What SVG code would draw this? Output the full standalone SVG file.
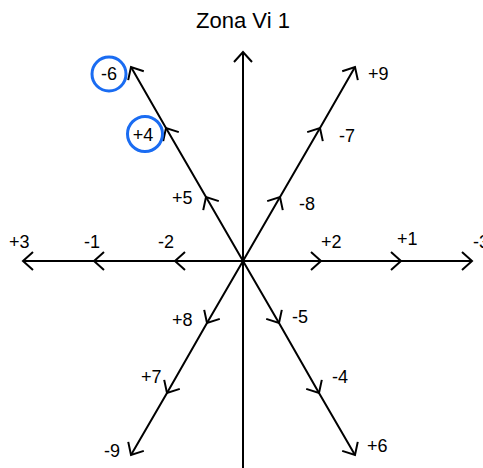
<svg xmlns="http://www.w3.org/2000/svg" width="483" height="468" viewBox="0 0 483 468">
<style>
.ax{fill:none;stroke:#000;stroke-width:2;marker-mid:url(#arr);marker-end:url(#arr)}
.lb{font-family:"Liberation Sans",Arial,sans-serif;font-size:18px;fill:#000}
.ring{fill:none;stroke:#1a6cf2;stroke-width:3}
</style>
<defs>
<marker id="arr" markerUnits="userSpaceOnUse" markerWidth="30" markerHeight="30" viewBox="-15 -15 30 30" refX="0" refY="0" orient="auto" overflow="visible">
<path d="M-10,-9 L0,0 L-10,9" fill="none" stroke="#000" stroke-width="2"/>
</marker>
</defs>
<rect width="483" height="468" fill="#fff"/>
<text x="243" y="28" text-anchor="middle" style="font-family:'Liberation Sans',Arial,sans-serif;font-size:22px">Zona Vi 1</text>
<g id="connectors">
<polyline class="ax" points="243,261 243,52"/>
<line x1="243" y1="261" x2="243" y2="468" stroke="#000" stroke-width="2"/>
<polyline class="ax" points="243,261 175,261 94,261 23,261"/>
<polyline class="ax" points="243,261 321,261 401,261 472,261"/>
<polyline class="ax" points="243,261 206,197 166,128 131,67"/>
<polyline class="ax" points="243,261 280,197 320,128 355,67"/>
<polyline class="ax" points="243,261 207,323 167,393 131,455"/>
<polyline class="ax" points="243,261 279,323 319,393 355,455"/>
</g>
<g id="n-6"><circle class="ring" cx="109" cy="74" r="17"/><text class="lb" x="109" y="80" text-anchor="middle">-6</text></g>
<g id="n+4"><circle class="ring" cx="145" cy="134" r="17.5"/><text class="lb" x="143" y="141" text-anchor="middle">+4</text></g>
<g id="n+9"><text class="lb" x="368" y="80">+9</text></g>
<g id="n-7"><text class="lb" x="339" y="142">-7</text></g>
<g id="n+5"><text class="lb" x="172" y="204">+5</text></g>
<g id="n-8"><text class="lb" x="299" y="210">-8</text></g>
<g id="n+3"><text class="lb" x="9" y="248">+3</text></g>
<g id="n-1"><text class="lb" x="84" y="248">-1</text></g>
<g id="n-2"><text class="lb" x="158" y="248">-2</text></g>
<g id="n+2"><text class="lb" x="321" y="248">+2</text></g>
<g id="n+1"><text class="lb" x="397" y="245">+1</text></g>
<g id="n-3"><text class="lb" x="473" y="248">-3</text></g>
<g id="n+8"><text class="lb" x="172" y="326">+8</text></g>
<g id="n-5"><text class="lb" x="292" y="323">-5</text></g>
<g id="n+7"><text class="lb" x="141" y="383">+7</text></g>
<g id="n-4"><text class="lb" x="332" y="383">-4</text></g>
<g id="n-9"><text class="lb" x="104" y="457">-9</text></g>
<g id="n+6"><text class="lb" x="367" y="452">+6</text></g>
</svg>
